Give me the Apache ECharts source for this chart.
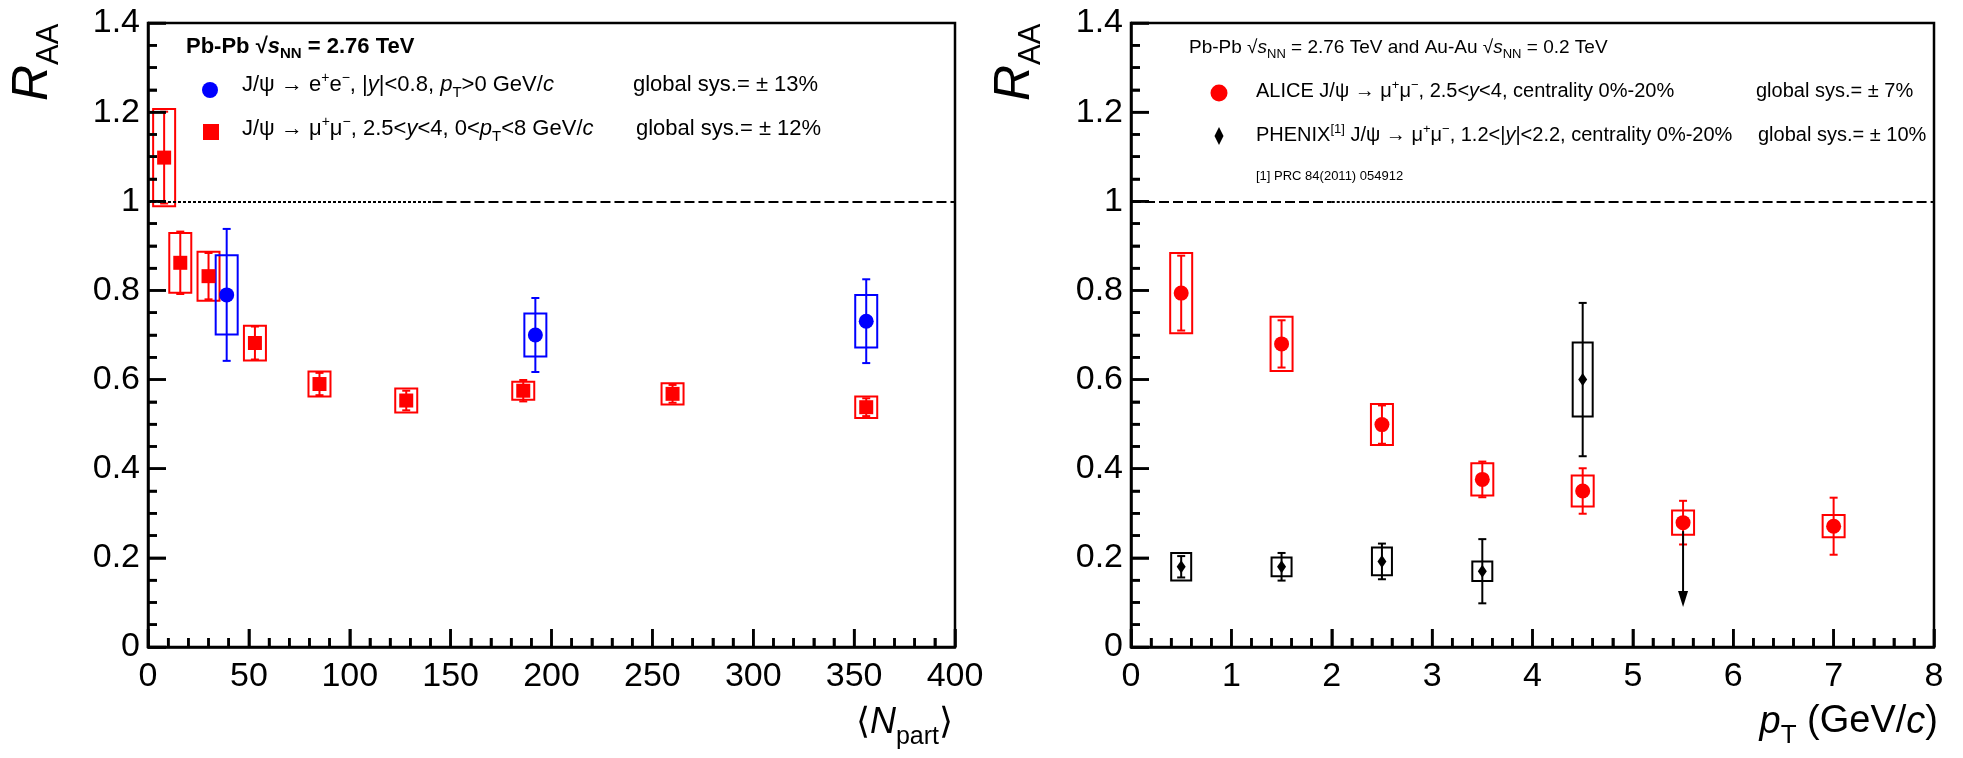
<!DOCTYPE html>
<html><head><meta charset="utf-8">
<script src="https://cdn.jsdelivr.net/npm/echarts@6/dist/echarts.min.js"></script>
<style>html,body{margin:0;padding:0;background:#fff}#c{width:1963px;height:758px}</style>
</head><body><div id="c"></div>
<script>
// ---------- data ----------
// Left panel: R_AA vs <Npart>
const muNpart = [8, 16, 30, 53, 85, 128, 186, 260, 356];
const muRaa   = [1.098, 0.862, 0.832, 0.682, 0.590, 0.553, 0.575, 0.568, 0.538];
const muStat  = [0.103, 0.070, 0.052, 0.037, 0.025, 0.022, 0.024, 0.020, 0.020];
const muSys   = [0.109, 0.067, 0.055, 0.039, 0.028, 0.027, 0.020, 0.024, 0.024];
const eeNpart = [39, 192, 356];
const eeRaa   = [0.790, 0.700, 0.731];
const eeStat  = [0.148, 0.083, 0.094];
const eeSys   = [0.089, 0.048, 0.059];
// Right panel: R_AA vs pT
const alicePt   = [0.5, 1.5, 2.5, 3.5, 4.5, 5.5, 7];
const aliceRaa  = [0.794, 0.680, 0.499, 0.376, 0.350, 0.279, 0.271];
const aliceStat = [0.084, 0.053, 0.043, 0.040, 0.051, 0.049, 0.064];
const aliceSys  = [0.090, 0.061, 0.046, 0.036, 0.035, 0.027, 0.025];
const phenixPt   = [0.5, 1.5, 2.5, 3.5, 4.5];
const phenixRaa  = [0.180, 0.180, 0.192, 0.170, 0.600];
const phenixStat = [0.024, 0.031, 0.040, 0.072, 0.172];
const phenixSys  = [0.031, 0.021, 0.031, 0.022, 0.083];
const phenixLimitPt  = [5.5];
const phenixLimitRaa = [0.26];
// axes
const nPartTicks = {min: 0, max: 400, step: 50, minor: 5};
const ptTicks = {min: 0, max: 8, step: 1, minor: 5};
const raaTicks = {min: 0, max: 1.4, step: 0.2, minor: 4};
// unity reference line segments [x0, x1, style]
const unityLeft  = [[0, 141, 'dot'], [141, 400, 'dash']];
const unityRight = [[0, 2, 'dash'], [2, 4.2, 'dot'], [4.2, 8, 'dash']];

// ---------- rendering ----------
const FONT = '"Liberation Sans", Arial, Helvetica, sans-serif';
const RED = '#ff0000', BLUE = '#0000ff', BLACK = '#000000';
const TICK_W = 2.5;

function zip(x, y, s, t) { return x.map((v, i) => [v, y[i], s[i], t[i]]); }

function errRender(color, halfW, capHalf) {
  return function (params, api) {
    const x = api.value(0), y = api.value(1), st = api.value(2), sy = api.value(3);
    const c = api.coord([x, y]);
    const sTop = api.coord([x, y + sy])[1], sBot = api.coord([x, y - sy])[1];
    const eTop = api.coord([x, y + st])[1], eBot = api.coord([x, y - st])[1];
    const style = {stroke: color, lineWidth: 2, fill: 'none'};
    return {type: 'group', children: [
      {type: 'rect', shape: {x: c[0] - halfW, y: sTop, width: 2 * halfW, height: sBot - sTop}, style: style},
      {type: 'line', shape: {x1: c[0], y1: eTop, x2: c[0], y2: eBot}, style: style},
      {type: 'line', shape: {x1: c[0] - capHalf, y1: eTop, x2: c[0] + capHalf, y2: eTop}, style: style},
      {type: 'line', shape: {x1: c[0] - capHalf, y1: eBot, x2: c[0] + capHalf, y2: eBot}, style: style}
    ]};
  };
}

function arrowRender(params, api) {
  const x = api.value(0), y = api.value(1);
  const c = api.coord([x, y]);
  const len = 76, hw = 5, hh = 16;
  const tip = c[1] + len;
  return {type: 'group', children: [
    {type: 'line', shape: {x1: c[0], y1: c[1], x2: c[0], y2: tip - hh + 2}, style: {stroke: BLACK, lineWidth: 2}},
    {type: 'polygon', shape: {points: [[c[0] - hw, tip - hh], [c[0] + hw, tip - hh], [c[0], tip]]}, style: {fill: BLACK}}
  ]};
}

// tick positions generated from the axis definition (major flag 1, minor 0)
function tickList(t) {
  const out = [];
  const n = Math.round((t.max - t.min) / t.step);
  for (let i = 0; i <= n; i++) {
    const v = t.min + i * t.step;
    out.push([v, 1]);
    if (i < n) for (let j = 1; j < t.minor; j++) out.push([v + j * t.step / t.minor, 0]);
  }
  return out;
}

function axisCfg(grid, t, isX) {
  return {
    gridIndex: grid, type: 'value', min: t.min, max: t.max, interval: t.step, z: 10,
    axisLine: {show: true, onZero: false, lineStyle: {color: BLACK, width: 2.5}},
    axisTick: {show: true, inside: true, length: 18, lineStyle: {color: BLACK, width: TICK_W}},
    minorTick: {show: true, splitNumber: t.minor, length: 9, lineStyle: {color: BLACK, width: TICK_W}},
    splitLine: {show: false},
    axisLabel: {fontSize: 34, color: BLACK, fontFamily: FONT, margin: isX ? 13 : 8, showMinLabel: true, showMaxLabel: true}
  };
}

function unityMarkLine(segs) {
  return {
    silent: true, symbol: ['none', 'none'], label: {show: false}, animation: false,
    data: segs.map(s => [
      {coord: [s[0], 1], lineStyle: {color: BLACK, width: 2, opacity: 1, type: s[2] === 'dot' ? [3, 2] : [10, 4]}},
      {coord: [s[1], 1]}
    ])
  };
}

// rich text helper: parts = [{t, s, it, b, dy}]
function richLabel(x, y, parts, opts) {
  opts = opts || {};
  const rich = {};
  let text = '';
  parts.forEach((p, i) => {
    const k = 't' + i;
    const dy = p.dy || 0;
    rich[k] = {
      fontSize: p.s, fontFamily: FONT,
      fontStyle: p.it ? 'italic' : 'normal', fontWeight: p.b ? 'bold' : 'normal',
      fill: '#000', color: '#000',
      padding: dy > 0 ? [2 * dy, 0, 0, 0] : (dy < 0 ? [0, 0, -2 * dy, 0] : [0, 0, 0, 0])
    };
    text += '{' + k + '|' + p.t + '}';
  });
  const al = opts.align || 'left';
  return {
    type: 'text', x: x, y: y, rotation: opts.rotation || 0, z: 100,
    style: {x: 0, y: 0, text: text, rich: rich, align: al, textAlign: al,
            verticalAlign: 'middle', textVerticalAlign: 'middle', fill: '#000'}
  };
}
function plain(x, y, t, s, opts) { return richLabel(x, y, [{t: t, s: s}], opts); }

const graphics = [];
// ----- y-axis titles -----
[33, 1015].forEach(x => {
  graphics.push(richLabel(x, 101, [{t: 'R', s: 50, it: true}, {t: 'AA', s: 31, dy: 16}], {rotation: Math.PI / 2}));
});
// ----- x-axis titles -----
graphics.push(richLabel(953, 723, [
  {t: '\u27E8', s: 36}, {t: 'N', s: 36, it: true}, {t: 'part', s: 25, dy: 14}, {t: '\u27E9', s: 36}
], {align: 'right'}));
graphics.push(richLabel(1938, 722, [
  {t: 'p', s: 38, it: true}, {t: 'T', s: 26, dy: 14}, {t: ' (GeV/', s: 38}, {t: 'c', s: 38, it: true}, {t: ')', s: 38}
], {align: 'right'}));

// ----- left legend -----
graphics.push(richLabel(186, 47, [
  {t: 'Pb-Pb \u221A', s: 22, b: true}, {t: 's', s: 22, b: true, it: true}, {t: 'NN', s: 15, b: true, dy: 7},
  {t: ' = 2.76 TeV', s: 22, b: true}
]));
graphics.push(richLabel(242, 85, [
  {t: 'J/\u03C8 \u2192 e', s: 22}, {t: '+', s: 14, dy: -7}, {t: 'e', s: 22}, {t: '\u2212', s: 14, dy: -7},
  {t: ', |', s: 22}, {t: 'y', s: 22, it: true}, {t: '|<0.8, ', s: 22}, {t: 'p', s: 22, it: true},
  {t: 'T', s: 15, dy: 8}, {t: '>0 GeV/', s: 22}, {t: 'c', s: 22, it: true}
]));
graphics.push(richLabel(242, 129, [
  {t: 'J/\u03C8 \u2192 \u03BC', s: 22}, {t: '+', s: 14, dy: -7}, {t: '\u03BC', s: 22}, {t: '\u2212', s: 14, dy: -7},
  {t: ', 2.5<', s: 22}, {t: 'y', s: 22, it: true}, {t: '<4, 0<', s: 22}, {t: 'p', s: 22, it: true},
  {t: 'T', s: 15, dy: 8}, {t: '<8 GeV/', s: 22}, {t: 'c', s: 22, it: true}
]));
graphics.push(plain(633, 85, 'global sys.= \u00B1 13%', 22));
graphics.push(plain(636, 129, 'global sys.= \u00B1 12%', 22));
graphics.push({type: 'circle', shape: {cx: 210, cy: 90, r: 8}, style: {fill: BLUE}, z: 100});
graphics.push({type: 'rect', shape: {x: 203, y: 124, width: 16, height: 16}, style: {fill: RED}, z: 100});

// ----- right legend -----
graphics.push(richLabel(1189, 48, [
  {t: 'Pb-Pb \u221A', s: 19}, {t: 's', s: 19, it: true}, {t: 'NN', s: 13, dy: 6},
  {t: ' = 2.76 TeV and Au-Au \u221A', s: 19}, {t: 's', s: 19, it: true}, {t: 'NN', s: 13, dy: 6},
  {t: ' = 0.2 TeV', s: 19}
]));
graphics.push(richLabel(1256, 91, [
  {t: 'ALICE J/\u03C8 \u2192 \u03BC', s: 20}, {t: '+', s: 13, dy: -6}, {t: '\u03BC', s: 20}, {t: '\u2212', s: 13, dy: -6},
  {t: ', 2.5<', s: 20}, {t: 'y', s: 20, it: true}, {t: '<4, centrality 0%-20%', s: 20}
]));
graphics.push(richLabel(1256, 135, [
  {t: 'PHENIX', s: 20}, {t: '[1]', s: 13, dy: -6}, {t: ' J/\u03C8 \u2192 \u03BC', s: 20}, {t: '+', s: 13, dy: -6},
  {t: '\u03BC', s: 20}, {t: '\u2212', s: 13, dy: -6}, {t: ', 1.2<|', s: 20}, {t: 'y', s: 20, it: true},
  {t: '|<2.2, centrality 0%-20%', s: 20}
]));
graphics.push(plain(1256, 176, '[1] PRC 84(2011) 054912', 13));
graphics.push(plain(1756, 91, 'global sys.= \u00B1 7%', 20));
graphics.push(plain(1758, 135, 'global sys.= \u00B1 10%', 20));
graphics.push({type: 'circle', shape: {cx: 1219, cy: 93, r: 8.5}, style: {fill: RED}, z: 100});
graphics.push({type: 'polygon', shape: {points: [[1219, 127], [1223.5, 136], [1219, 145], [1214.5, 136]]}, style: {fill: BLACK}, z: 100});

const option = {
  animation: false,
  backgroundColor: '#ffffff',
  grid: [
    {left: 148, right: 1008, top: 23, bottom: 111, show: true, borderColor: BLACK, borderWidth: 2.5, backgroundColor: 'transparent', z: 0},
    {left: 1131, right: 29, top: 23, bottom: 111, show: true, borderColor: BLACK, borderWidth: 2.5, backgroundColor: 'transparent', z: 0}
  ],
  xAxis: [axisCfg(0, nPartTicks, true), axisCfg(1, ptTicks, true)],
  yAxis: [axisCfg(0, raaTicks, false), axisCfg(1, raaTicks, false)],
  graphic: graphics,
  series: [
    // left panel
    {type: 'custom', xAxisIndex: 0, yAxisIndex: 0, data: zip(muNpart, muRaa, muStat, muSys),
     encode: {x: 0, y: 1}, renderItem: errRender(RED, 11, 4), z: 3,
     markLine: unityMarkLine(unityLeft)},
    {type: 'custom', xAxisIndex: 0, yAxisIndex: 0, data: zip(eeNpart, eeRaa, eeStat, eeSys),
     encode: {x: 0, y: 1}, renderItem: errRender(BLUE, 11, 4), z: 3},
    {type: 'scatter', xAxisIndex: 0, yAxisIndex: 0, data: muNpart.map((x, i) => [x, muRaa[i]]),
     symbol: 'rect', symbolSize: 14, itemStyle: {color: RED, opacity: 1}, z: 5},
    {type: 'scatter', xAxisIndex: 0, yAxisIndex: 0, data: eeNpart.map((x, i) => [x, eeRaa[i]]),
     symbol: 'circle', symbolSize: 15, itemStyle: {color: BLUE, opacity: 1}, z: 5},
    // right panel
    {type: 'custom', xAxisIndex: 1, yAxisIndex: 1, data: zip(alicePt, aliceRaa, aliceStat, aliceSys),
     encode: {x: 0, y: 1}, renderItem: errRender(RED, 11, 4), z: 3,
     markLine: unityMarkLine(unityRight)},
    {type: 'custom', xAxisIndex: 1, yAxisIndex: 1, data: zip(phenixPt, phenixRaa, phenixStat, phenixSys),
     encode: {x: 0, y: 1}, renderItem: errRender(BLACK, 10, 4), z: 3},
    {type: 'scatter', xAxisIndex: 1, yAxisIndex: 1, data: alicePt.map((x, i) => [x, aliceRaa[i]]),
     symbol: 'circle', symbolSize: 15, itemStyle: {color: RED, opacity: 1}, z: 5},
    {type: 'scatter', xAxisIndex: 1, yAxisIndex: 1, data: phenixPt.map((x, i) => [x, phenixRaa[i]]),
     symbol: 'diamond', symbolSize: [9, 13], itemStyle: {color: BLACK, opacity: 1}, z: 6},
    {type: 'custom', xAxisIndex: 1, yAxisIndex: 1, data: phenixLimitPt.map((x, i) => [x, phenixLimitRaa[i]]),
     encode: {x: 0, y: 1}, renderItem: arrowRender, z: 7}
  ]
};
const chart = echarts.init(document.getElementById('c'), null, {renderer: 'canvas'});
chart.setOption(option);

// tick marks also placed through the chart's own coordinate conversion
const tickGraphics = [];
[[0, nPartTicks], [1, ptTicks]].forEach(([g, xT]) => {
  tickList(xT).forEach(([v, major]) => {
    const p = chart.convertToPixel({gridIndex: g}, [v, raaTicks.min]);
    const len = major ? 18 : 9;
    tickGraphics.push({type: 'line', z: 50, shape: {x1: p[0], y1: p[1], x2: p[0], y2: p[1] - len},
                       style: {stroke: BLACK, lineWidth: TICK_W}});
  });
  tickList(raaTicks).forEach(([v, major]) => {
    const p = chart.convertToPixel({gridIndex: g}, [xT.min, v]);
    const len = major ? 18 : 9;
    tickGraphics.push({type: 'line', z: 50, shape: {x1: p[0], y1: p[1], x2: p[0] + len, y2: p[1]},
                       style: {stroke: BLACK, lineWidth: TICK_W}});
  });
});
chart.setOption({graphic: graphics.concat(tickGraphics)});
</script>
</body></html>
